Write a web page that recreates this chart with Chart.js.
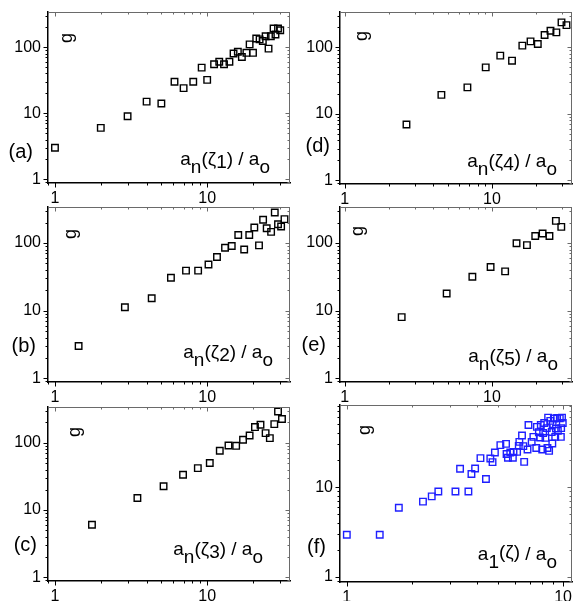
<!DOCTYPE html>
<html><head><meta charset="utf-8">
<script src="https://cdn.jsdelivr.net/npm/chart.js@4/dist/chart.umd.min.js"></script>
<style>
html,body{margin:0;padding:0;background:#fff;}
#wrap{position:relative;width:578px;height:601px;overflow:hidden;background:#fff;}
#wrap canvas{position:absolute;left:0;top:0;}
</style></head><body>
<div id="wrap">
<canvas id="pa" width="578" height="601"></canvas>
<canvas id="pb" width="578" height="601"></canvas>
<canvas id="pc" width="578" height="601"></canvas>
<canvas id="pd" width="578" height="601"></canvas>
<canvas id="pe" width="578" height="601"></canvas>
<canvas id="pf" width="578" height="601"></canvas>
</div>
<script>
// ---------- data ----------
const aX = [1.0, 2.0, 3.0, 4.0, 5.0, 6.1, 7.0, 8.1, 9.2, 10.0, 11.1, 12.0, 12.9, 14.0, 14.9, 15.9, 16.9, 18.1, 19.0, 20.0, 21.0, 22.1, 23.2, 24.2, 25.3, 26.2, 27.3, 28.1, 29.2, 30.2];
const aY = [3.0, 6.0, 9.0, 15, 14, 30, 24, 30, 49, 32, 55, 60, 55, 60, 80, 85, 71, 82, 110, 82, 135, 131, 124, 146, 95, 146, 191, 155, 191, 180];

const bX = [1.43, 2.88, 4.32, 5.78, 7.26, 8.72, 10.2, 11.6, 13.1, 14.5, 16.0, 17.5, 18.9, 20.4, 21.9, 23.3, 24.6, 26.3, 27.8, 29.2, 30.6, 32.2];
const bY = [3.0, 11.2, 15.2, 30.6, 39, 39, 48, 62, 85, 90, 131, 80, 131, 169, 92, 220, 165, 146, 282, 189, 175, 225];

const cX = [1.75, 3.48, 5.17, 6.94, 8.68, 10.4, 12.1, 13.8, 15.5, 17.2, 19.0, 20.6, 22.4, 24.2, 25.8, 27.6, 29.2, 31.0];
const cY = [6.05, 15.1, 22.5, 33.5, 42, 50, 76, 91, 90, 111, 128, 171, 185, 139, 117, 189, 292, 225];

const dX = [2.63, 4.54, 6.82, 9.08, 11.4, 13.7, 16.1, 18.3, 20.5, 22.8, 25.0, 27.4, 29.7, 32.1];
const dY = [6.9, 19.3, 25, 50, 75, 63, 106, 123, 112, 153, 178, 168, 237, 216];

const eX = [2.44, 4.93, 7.37, 9.8, 12.3, 14.7, 17.3, 19.7, 22.1, 24.6, 27.2, 29.6];
const eY = [8.0, 17.9, 31.6, 44, 38, 99, 93, 127, 138, 127, 212, 173];

const fX = [1.0, 1.42, 1.74, 2.25, 2.47, 2.65, 3.18, 3.34, 3.65, 3.77, 3.92, 4.15, 4.4, 4.61, 4.72, 4.84, 5.13, 5.45, 5.48, 5.56, 5.7, 5.86, 5.9, 6.13, 6.24, 6.28, 6.46, 6.55, 6.61, 6.85, 6.92, 7.16, 7.29, 7.52, 7.57, 7.73, 7.84, 7.89, 8.01, 8.09, 8.18, 8.29, 8.41, 8.47, 8.53, 8.62, 8.73, 8.86, 8.95, 8.92, 9.07, 9.2, 9.27, 9.39, 9.46, 9.66, 9.77, 9.8, 9.89, 9.97];
const fY = [2.95, 2.95, 5.9, 6.9, 7.9, 8.95, 8.95, 16, 8.95, 14, 16.1, 21, 12.3, 20.8, 19, 24.3, 29.3, 30.3, 23.4, 21.2, 24.3, 21.2, 24.7, 24.7, 28.8, 31.9, 37.5, 28.6, 19.1, 26.2, 49.2, 31.9, 36.2, 27.3, 46.8, 40.8, 35.6, 49.2, 26.2, 40, 51.7, 35.3, 45.3, 27.3, 59.4, 25.3, 54.6, 41.1, 50.1, 30.6, 58, 36.2, 44.9, 58.9, 42.3, 58.4, 36.2, 45.3, 59.4, 51.7];

const yTickLabels = ['1', '10', '100'];
const xTickLabels = ['1', '10'];
const panelLabels = ['(a)', '(b)', '(c)', '(d)', '(e)', '(f)'];
const yTitle = 'g';
// x-axis titles: pieces [text, subscript?]
const xTitles = [
  [['a',1],['n',2],['(ζ',1],['1',3],[')',1],[' / a',1],['o',2]],
  [['a',1],['n',2],['(ζ',1],['2',3],[')',1],[' / a',1],['o',2]],
  [['a',1],['n',2],['(ζ',1],['3',3],[')',1],[' / a',1],['o',2]],
  [['a',1],['n',2],['(ζ',1],['4',3],[')',1],[' / a',1],['o',2]],
  [['a',1],['n',2],['(ζ',1],['5',3],[')',1],[' / a',1],['o',2]],
  [['a',1],['1',2],['(ζ)',0],[' / a',1],['o',2]]
];

// ---------- helpers ----------
const FONT = "'Liberation Sans', Arial, sans-serif";
function logTicks(min, max) {
  const out = [];
  for (let e = Math.floor(Math.log10(min)) - 1; e <= Math.ceil(Math.log10(max)); e++) {
    for (let m = 1; m <= 9; m++) {
      const v = Number((m * Math.pow(10, e)).toPrecision(6));
      if (v >= min && v <= max) out.push(v);
    }
  }
  return out;
}
function isMajor(v) { const l = Math.log10(v); return Math.abs(l - Math.round(l)) < 1e-9; }

const decoPlugin = {
  id: 'deco',
  afterDraw(chart, args, o) {
    const {ctx, chartArea: ca, scales} = chart;
    const xs = scales.x, ys = scales.y;
    ctx.save();
    // top & right frame (gray)
    ctx.strokeStyle = '#6a6a6a'; ctx.lineWidth = 1;
    ctx.beginPath();
    ctx.moveTo(ca.left, ca.top + 0.5); ctx.lineTo(ca.right, ca.top + 0.5);
    ctx.moveTo(ca.right - 0.5, ca.top); ctx.lineTo(ca.right - 0.5, ca.bottom);
    ctx.stroke();
    // tick marks
    xs.ticks.forEach(t => {
      const p = Math.round(xs.getPixelForValue(t.value)) + 0.5;
      if (p < ca.left || p > ca.right) return;
      const L = isMajor(t.value) ? 4.5 : 2.5;
      ctx.strokeStyle = '#000'; ctx.lineWidth = 1;
      ctx.beginPath(); ctx.moveTo(p, ca.bottom); ctx.lineTo(p, ca.bottom + L); ctx.stroke();
      ctx.strokeStyle = '#6a6a6a';
      ctx.beginPath(); ctx.moveTo(p, ca.top); ctx.lineTo(p, ca.top + L); ctx.stroke();
    });
    ys.ticks.forEach(t => {
      const p = Math.round(ys.getPixelForValue(t.value)) + 0.5;
      if (p < ca.top || p > ca.bottom) return;
      const L = isMajor(t.value) ? 4.5 : 2.5;
      ctx.strokeStyle = '#000'; ctx.lineWidth = 1;
      ctx.beginPath(); ctx.moveTo(ca.left - L, p); ctx.lineTo(ca.left, p); ctx.stroke();
      ctx.strokeStyle = '#6a6a6a';
      ctx.beginPath(); ctx.moveTo(ca.right - L, p); ctx.lineTo(ca.right, p); ctx.stroke();
    });
    // y title "g" rotated
    ctx.fillStyle = '#000';
    ctx.font = '18px ' + FONT;
    ctx.save();
    ctx.translate(ca.left + o.g[0], ca.top + o.g[1]);
    ctx.rotate(-Math.PI / 2);
    ctx.textAlign = 'center'; ctx.textBaseline = 'middle';
    ctx.fillText(yTitle, 0, 0);
    ctx.restore();
    // panel label
    ctx.font = '20px ' + FONT;
    ctx.textAlign = 'right'; ctx.textBaseline = 'middle';
    ctx.fillText(o.label, ca.left + o.lab[0], ca.top + o.lab[1]);
    // x title
    ctx.font = '19px ' + FONT;
    ctx.textAlign = 'left'; ctx.textBaseline = 'alphabetic';
    const pieces = o.title;
    let w = 0; pieces.forEach(p => w += ctx.measureText(p[0]).width);
    let x = ca.right + o.tt[0] - w;
    const base = ca.bottom + o.tt[1];
    const shift = {0: -2, 1: 0, 2: 8, 3: 3};
    pieces.forEach(p => { ctx.fillText(p[0], x, base + shift[p[1]]); x += ctx.measureText(p[0]).width; });
    ctx.restore();
  }
};

function makePanel(id, xs, ys, cfg) {
  const W = 578, H = 601, YW = 40, XH = 25;
  const padding = {left: cfg.box[0] - YW, top: cfg.box[1], right: W - cfg.box[2], bottom: H - cfg.box[3] - XH};
  const color = cfg.color || '#000';
  return new Chart(document.getElementById(id), {
    type: 'scatter',
    data: {datasets: [{
      data: xs.map((x, i) => ({x: x, y: ys[i]})),
      pointStyle: 'rect', pointRadius: 4.6, pointHoverRadius: 4.6,
      borderColor: color, backgroundColor: 'rgba(0,0,0,0)', borderWidth: 1.4,
      clip: false
    }]},
    options: {
      responsive: false, animation: false, devicePixelRatio: 1,
      layout: {padding: padding},
      plugins: {legend: {display: false}, tooltip: {enabled: false},
        deco: {g: cfg.g, lab: cfg.lab, label: cfg.label, title: cfg.title, tt: cfg.tt}},
      scales: {
        x: {
          type: 'logarithmic', position: 'bottom', min: cfg.xr[0], max: cfg.xr[1],
          afterBuildTicks: s => { s.ticks = logTicks(cfg.xr[0], cfg.xr[1]).map(v => ({value: v, major: isMajor(v)})); },
          afterFit: s => { s.height = XH; s.paddingLeft = 0; s.paddingRight = 0; s.paddingTop = 0; s.paddingBottom = 0; },
          grid: {display: false, drawTicks: false, drawOnChartArea: false},
          border: {display: true, color: '#000', width: 1.5},
          ticks: {autoSkip: false, maxRotation: 0, minRotation: 0, padding: 6, color: '#000',
            font: {family: FONT, size: 16},
            callback: v => xTickLabels.includes(String(v)) ? String(v) : ''}
        },
        y: {
          type: 'logarithmic', position: 'left', min: cfg.yr[0], max: cfg.yr[1],
          afterBuildTicks: s => { s.ticks = logTicks(cfg.yr[0], cfg.yr[1]).map(v => ({value: v, major: isMajor(v)})); },
          afterFit: s => { s.width = YW; s.paddingLeft = 0; s.paddingRight = 0; s.paddingTop = 0; s.paddingBottom = 0; },
          grid: {display: false, drawTicks: false, drawOnChartArea: false},
          border: {display: true, color: '#000', width: 1.5},
          ticks: {autoSkip: false, padding: 7, color: '#000',
            font: {family: FONT, size: 16},
            callback: v => yTickLabels.includes(String(v)) ? String(v) : ''}
        }
      }
    },
    plugins: [decoPlugin]
  });
}

const LXR = [0.9, 35], RXR = [0.93, 35], YR = [0.88, 340];
makePanel('pa', aX, aY, {box: [48, 12, 290, 183], xr: LXR, yr: YR, g: [19, 26], lab: [-15, 140], label: panelLabels[0], title: xTitles[0], tt: [-20, -18]});
makePanel('pb', bX, bY, {box: [48, 207, 290, 382], xr: LXR, yr: YR, g: [23, 27], lab: [-12, 139], label: panelLabels[1], title: xTitles[1], tt: [-17, -24]});
makePanel('pc', cX, cY, {box: [48, 407, 290, 581], xr: LXR, yr: YR, g: [27, 25], lab: [-11, 138], label: panelLabels[2], title: xTitles[2], tt: [-27, -26]});
makePanel('pd', dX, dY, {box: [340, 12, 577, 184], xr: RXR, yr: YR, g: [22, 24], lab: [-10, 134], label: panelLabels[3], title: xTitles[3], tt: [-15, -17]});
makePanel('pe', eX, eY, {box: [340, 207, 577, 382], xr: RXR, yr: YR, g: [18, 24], lab: [-14, 138], label: panelLabels[4], title: xTitles[4], tt: [-14, -20]});
makePanel('pf', fX, fY, {box: [340, 405, 577, 582], xr: [0.93, 11], yr: [0.88, 82], g: [25, 25], lab: [-14, 142], label: panelLabels[5], title: xTitles[5], tt: [-15, -22], color: '#1f1fff'});
</script>
</body></html>
